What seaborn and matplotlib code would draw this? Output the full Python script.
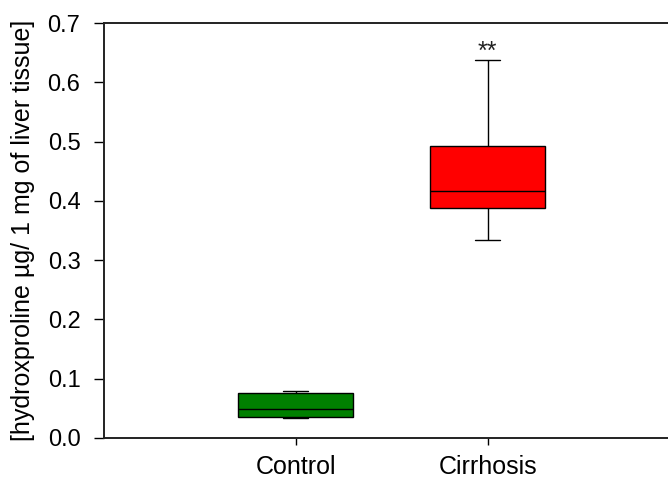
import matplotlib
matplotlib.use("Agg")
import matplotlib.pyplot as plt
import seaborn as sns
import pandas as pd

# Group labels and their five-number summaries (min, Q1, median, Q3, max)
groups = ["Control", "Cirrhosis"]
control_vals = [0.034, 0.035, 0.049, 0.076, 0.080]
cirrhosis_vals = [0.334, 0.388, 0.416, 0.493, 0.638]
box_colors = ["#008000", "#FF0000"]
yticks = [0.0, 0.1, 0.2, 0.3, 0.4, 0.5, 0.6, 0.7]
signif_label = "**"

df = pd.DataFrame({
    "group": [groups[0]] * len(control_vals) + [groups[1]] * len(cirrhosis_vals),
    "value": control_vals + cirrhosis_vals,
})

sns.set_style("ticks")
plt.rcParams["font.family"] = ["Liberation Sans", "DejaVu Sans"]
plt.rcParams["text.color"] = "black"
plt.rcParams["axes.labelcolor"] = "black"
plt.rcParams["xtick.color"] = "black"
plt.rcParams["ytick.color"] = "black"

fig = plt.figure(figsize=(6.68, 4.84), dpi=100)
ax = fig.add_axes([104 / 668, 46 / 484, (679.5 - 104) / 668, (438 - 23) / 484])

sns.boxplot(
    data=df, x="group", y="value", hue="group", order=groups,
    palette=box_colors, legend=False, ax=ax,
    width=0.6, whis=(0, 100), linecolor="black", linewidth=1.0,
    saturation=1, capwidths=0.13, showfliers=False,
)

ax.set_xlim(-1, 2)
ax.set_ylim(0, 0.7)
ax.set_yticks(yticks)
ax.set_yticklabels([f"{t:.1f}" for t in yticks])
ax.set_xlabel("")
ax.set_ylabel("[hydroxproline µg/ 1 mg of liver tissue]", fontsize=18, labelpad=9)

ax.tick_params(axis="y", labelsize=17, length=7, width=1.0, pad=10)
ax.tick_params(axis="x", labelsize=18, length=5, width=1.0, pad=7)

for side in ["left", "bottom", "top"]:
    ax.spines[side].set_visible(True)
    ax.spines[side].set_linewidth(1.4)
    ax.spines[side].set_color("#222222")
ax.spines["right"].set_visible(False)

# Significance marker above the Cirrhosis whisker
ax.text(1, cirrhosis_vals[-1] - 0.007, signif_label, ha="center", va="bottom",
        fontsize=18, color="#222222")

fig.savefig("out.png", dpi=100)
